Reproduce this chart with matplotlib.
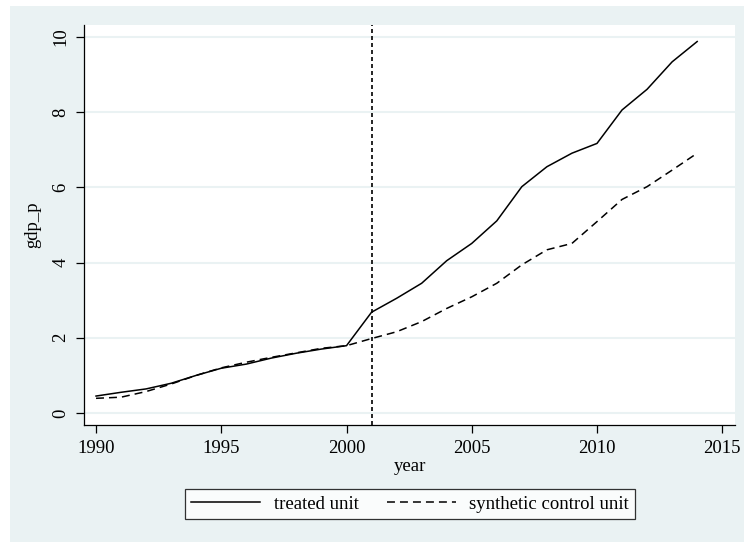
import matplotlib
matplotlib.use("Agg")
import matplotlib.pyplot as plt
from matplotlib.lines import Line2D
from matplotlib.patches import Rectangle

years = list(range(1990, 2015))
treated = [0.45, 0.55, 0.64, 0.79, 1.00, 1.19, 1.30, 1.46, 1.59, 1.70, 1.79,
           2.68, 3.05, 3.45, 4.05, 4.51, 5.11, 6.02, 6.55, 6.91, 7.17,
           8.06, 8.61, 9.34, 9.88]
synthetic = [0.39, 0.42, 0.57, 0.77, 1.00, 1.20, 1.35, 1.48, 1.60, 1.72, 1.79,
             1.98, 2.16, 2.43, 2.78, 3.09, 3.45, 3.94, 4.34, 4.51, 5.09,
             5.68, 6.02, 6.46, 6.91]
treat_year = 2001
xticks = [1990, 1995, 2000, 2005, 2010, 2015]
yticks = [0, 2, 4, 6, 8, 10]

plt.rcParams['font.family'] = ['Liberation Serif', 'DejaVu Serif']
bg = '#EAF2F3'
W, H = 744, 542
fig = plt.figure(figsize=(W/100, H/100), dpi=100, facecolor=bg)
# thin white margin on the left and top of the image
fig.patches.append(Rectangle((0, 0), 10/W, 1, transform=fig.transFigure,
                             facecolor='white', edgecolor='none', zorder=-10))
fig.patches.append(Rectangle((0, 1 - 6/H), 1, 6/H, transform=fig.transFigure,
                             facecolor='white', edgecolor='none', zorder=-10))
ax = fig.add_axes([84/W, 1-425/H, 651/W, 400/H])
ax.set_facecolor('white')

lw = 1.1
dash = (0, (5.2, 3.3))
ax.plot(years, treated, color='black', lw=lw, label='treated unit')
ax.plot(years, synthetic, color='black', lw=lw, ls=dash, label='synthetic control unit')
ax.axvline(treat_year, color='black', lw=1.2, ls=(0, (2.4, 1.8)))

ax.set_xlim(1989.52, 2015.51)
ax.set_ylim(-0.32, 10.32)
ax.set_xticks(xticks)
ax.set_yticks(yticks)
ax.grid(axis='y', color=bg, lw=1.5)
ax.set_axisbelow(True)
for s in ['top', 'right']:
    ax.spines[s].set_visible(False)
for s in ['left', 'bottom']:
    ax.spines[s].set_linewidth(0.9)
ax.tick_params(axis='both', direction='out', length=5.5, width=0.9, labelsize=13.5, pad=5)
for lab in ax.get_yticklabels():
    lab.set_rotation(90)
    lab.set_va('center')
ax.set_xlabel('year', fontsize=13.5, labelpad=1)
ax.set_ylabel('gdp_p', fontsize=13.5, labelpad=8)

handles = [Line2D([], [], color='black', lw=lw),
           Line2D([], [], color='black', lw=lw, ls=dash)]
leg = fig.legend(handles, ['treated unit', 'synthetic control unit'],
                 loc='center', bbox_to_anchor=(410/W, 1-504/H), ncol=2,
                 fontsize=13.5, frameon=True, fancybox=False, edgecolor='black',
                 handlelength=3.7, handletextpad=0.7, columnspacing=1.5, borderpad=0.35)
leg.get_frame().set_linewidth(0.9)
fig.savefig('out.png', dpi=100, facecolor=bg)
